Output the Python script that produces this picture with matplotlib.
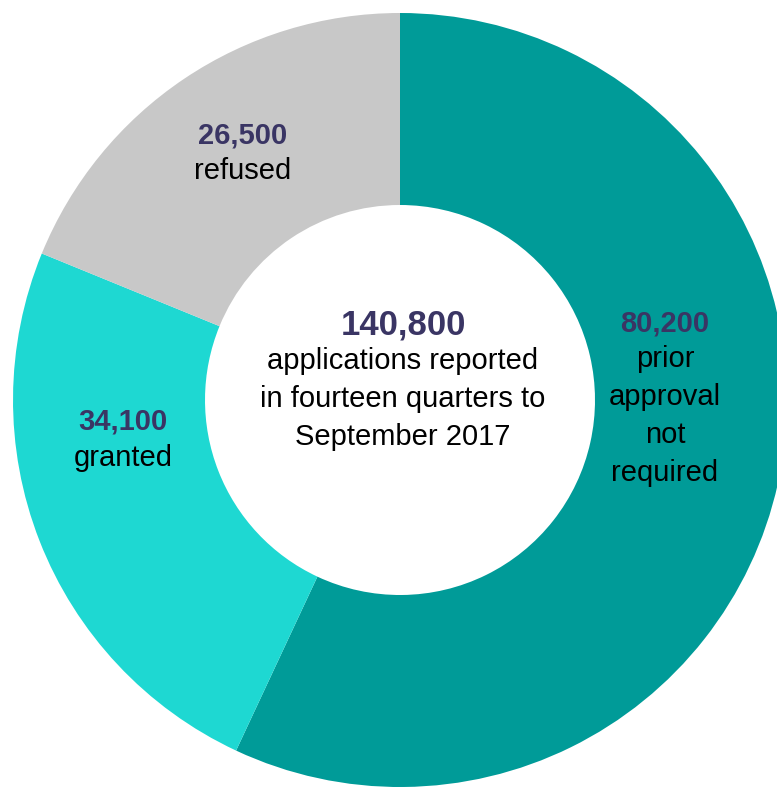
import matplotlib.pyplot as plt

values = [80200, 34100, 26500]
colors = ["#009B98", "#1ED8D2", "#C8C8C8"]
numbers = ["80,200", "34,100", "26,500"]
labels = ["prior\napproval\nnot\nrequired", "granted", "refused"]
label_pos = [(665, 323), (123, 422), (243, 135)]
total_text = "140,800"
center_text = "applications reported\nin fourteen quarters to\nSeptember 2017"

W, H = 777, 787
fig = plt.figure(figsize=(W / 100, H / 100), dpi=100)
ax = fig.add_axes([0, 0, 1, 1])

cx, cy, r = 400, H - 400, 387
ax.pie(values, colors=colors, startangle=90, counterclock=False,
       center=(cx, cy), radius=r, frame=True,
       wedgeprops=dict(width=192, linewidth=0))
ax.set_xlim(0, W)
ax.set_ylim(0, H)
ax.set_aspect("equal")
ax.axis("off")

font = "Liberation Sans"
navy = "#3A3564"
for num, lab, (x, y) in zip(numbers, labels, label_pos):
    ax.text(x, H - y, num, ha="center", va="center", fontsize=21,
            fontweight="bold", color=navy, family=font)
    ax.text(x, H - y - 22, lab, ha="center", va="top", fontsize=21,
            color="black", family=font, linespacing=1.45)

ax.text(403, H - 325, total_text, ha="center", va="center", fontsize=25,
        fontweight="bold", color=navy, family=font)
ax.text(403, H - 347, center_text, ha="center", va="top", fontsize=21,
        color="black", family=font, linespacing=1.45)

fig.savefig("out.png", dpi=100)
